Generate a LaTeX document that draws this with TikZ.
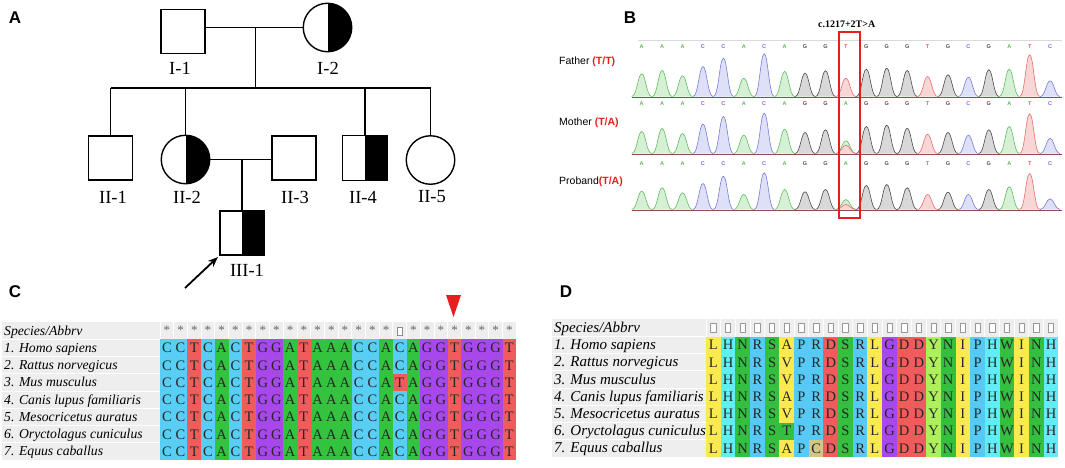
\documentclass[tikz,border=0pt]{standalone}
\usepackage{fontspec}
\setmainfont{Liberation Serif}
\newfontfamily\arial{Liberation Sans}
\usetikzlibrary{arrows.meta}
% chromatogram colours
\definecolor{lnA}{RGB}{95,190,95}   \definecolor{flA}{RGB}{214,240,214}
\definecolor{lnC}{RGB}{120,125,215} \definecolor{flC}{RGB}{221,224,246}
\definecolor{lnG}{RGB}{75,75,75}    \definecolor{flG}{RGB}{216,216,216}
\definecolor{lnT}{RGB}{232,110,110} \definecolor{flT}{RGB}{248,214,214}
\definecolor{txA}{RGB}{90,185,90}   \definecolor{txC}{RGB}{110,115,210}
\definecolor{txG}{RGB}{80,80,80}    \definecolor{txT}{RGB}{230,90,90}
% nucleotide alignment colours
\definecolor{seqC}{RGB}{88,206,245}
\definecolor{seqT}{RGB}{240,92,92}
\definecolor{seqA}{RGB}{52,195,62}
\definecolor{seqG}{RGB}{168,72,236}
% amino-acid colours
\definecolor{aaL}{RGB}{250,234,80}
\definecolor{aaA}{RGB}{250,234,80}
\definecolor{aaV}{RGB}{250,234,80}
\definecolor{aaI}{RGB}{250,234,80}
\definecolor{aaH}{RGB}{98,236,246}
\definecolor{aaR}{RGB}{86,202,245}
\definecolor{aaP}{RGB}{86,202,245}
\definecolor{aaN}{RGB}{52,192,62}
\definecolor{aaS}{RGB}{52,192,62}
\definecolor{aaT}{RGB}{52,192,62}
\definecolor{aaW}{RGB}{52,192,62}
\definecolor{aaD}{RGB}{240,92,92}
\definecolor{aaG}{RGB}{168,72,236}
\definecolor{aaY}{RGB}{172,240,92}
\definecolor{aaC}{RGB}{206,200,132}
\definecolor{hdr}{RGB}{238,238,238}
\definecolor{mkred}{RGB}{232,30,30}
\definecolor{basebr}{RGB}{140,80,72}

\newcommand\pk[4]{% x, baseline, height, base
  \filldraw[draw=ln#4, fill=fl#4, line width=0.6]
    ({#1-10},#2) .. controls ({#1-4.8},#2) and ({#1-3.8},{#2-#3}) .. (#1,{#2-#3})
    .. controls ({#1+3.8},{#2-#3}) and ({#1+4.8},#2) .. ({#1+10},#2);}
\newcommand\pkrow[2]{% baseline, list
  \foreach \b/\h [count=\i] in {#2}{%
    \pgfmathsetmacro\px{641.7+20.42*(\i-1)}%
    \pk{\px}{#1}{\h}{\b}}}
\newcommand\ltrrow[3]{% y, list, name
  \foreach \b [count=\i] in {#2}{%
    \pgfmathsetmacro\px{641.7+20.42*(\i-1)}%
    \node[basetxt, text=tx\b] (#3\i) at (\px,#1) {\b};}}
\newcommand\crow[2]{%
  \foreach \l [count=\j] in {#2}{%
    \pgfmathsetmacro\cx{160+13.7*(\j-1)}%
    \pgfmathsetmacro\cy{322+17.25*#1}%
    \fill[seq\l] (\cx,\cy) rectangle ++(13.7,17.25);
    \node[seqtxt] (c#1-\j) at ({\cx+6.85},{\cy+13.5}) {\l};}}
\newcommand\drow[2]{%
  \foreach \l [count=\j] in {#2}{%
    \pgfmathsetmacro\cx{706+14.68*(\j-1)}%
    \pgfmathsetmacro\cy{319.3+17.2*#1}%
    \fill[aa\l] (\cx,\cy) rectangle ++(14.68,17.2);
    \node[seqtxt] (d#1-\j) at ({\cx+7.34},{\cy+13.4}) {\l};}}

\begin{document}
\begin{tikzpicture}[x=1pt,y=-1pt,
  ped/.style={draw, line width=1.4, fill=white, inner sep=0pt},
  sq/.style={ped, rectangle, minimum size=44},
  circ/.style={ped, circle, minimum size=48.5},
  halfR/.style={path picture={\fill[black] (path picture bounding box.north) rectangle (path picture bounding box.south east);}},
  plab/.style={font=\fontsize{18.5}{20}\selectfont, inner sep=0pt},
  link/.style={line width=1.4},
  panel/.style={font=\arial\bfseries\fontsize{17}{18}\selectfont, inner sep=0pt},
  basetxt/.style={font=\arial\bfseries\fontsize{5.5}{6}\selectfont, inner sep=0pt},
  clab/.style={font=\arial\fontsize{10.5}{12}\selectfont, anchor=west, inner sep=0pt},
  seqtxt/.style={font=\fontsize{14.5}{15}\selectfont, text=black!85, anchor=base, inner sep=0pt},
  spC/.style={font=\itshape\fontsize{13.7}{15}\selectfont, anchor=base west, inner sep=0pt},
  spD/.style={font=\itshape\fontsize{15}{16}\selectfont, anchor=base west, inner sep=0pt},
  star/.style={font=\fontsize{13}{14}\selectfont, text=black!60, inner sep=0pt}
]
\useasboundingbox (0,0) rectangle (1065,467);

% ---------------- panel labels
\node[panel] (pA) at (15,18) {A};
\node[panel] (pB) at (630,18) {B};
\node[panel] (pC) at (15,292) {C};
\node[panel] (pD) at (566,292) {D};

% ---------------- pedigree
\node[sq] (I1) at (183,31.5) {};
\node[circ, halfR] (I2) at (327.5,27.5) {};
\node[sq] (II1) at (110.5,158) {};
\node[circ, halfR] (II2) at (185.5,159.5) {};
\node[sq] (II3) at (294,158) {};
\node[sq, halfR, minimum size=45] (II4) at (365,158) {};
\node[circ] (II5) at (430.5,160) {};
\node[sq, halfR] (III1) at (242,233) {};

\coordinate (m1) at (255.5,27.5);
\coordinate (s0) at (255.5,88);
\coordinate (sL) at (110.5,88);
\coordinate (sR) at (430.5,88);
\coordinate (m2) at (242,159.5);

\draw[link] (I1.east |- I2.west) -- (I2.west);
\draw[link] (m1) -- (s0);
\draw[link] (sL) -- (sR);
\draw[link] (II1.north |- sL) -- (II1.north);
\draw[link] (II2.north |- sL) -- (II2.north);
\draw[link] (II4.north |- sL) -- (II4.north);
\draw[link] (II5.north |- sL) -- (II5.north);
\draw[link] (II2.east) -- (II3.west |- II2.east);
\draw[link] (m2) -- (III1.north);

\node[plab] (lI1) at (180,68) {I-1};
\node[plab] (lI2) at (328,68) {I-2};
\node[plab] (lII1) at (113,197) {II-1};
\node[plab] (lII2) at (187,197) {II-2};
\node[plab] (lII3) at (295,197) {II-3};
\node[plab] (lII4) at (363,197) {II-4};
\node[plab] (lII5) at (432,197) {II-5};
\node[plab] (lIII1) at (247,270) {III-1};

\coordinate (a0) at (185,288);
\draw[line width=1.8, -{Stealth[length=10,width=8]}, shorten >=2] (a0) -- (III1.south west);

% ---------------- chromatogram
\node[font=\bfseries\fontsize{10}{11}\selectfont, inner sep=0pt] (title) at (846.7,24) {c.1217+2T>A};
\draw[black!15, line width=0.5] (638,40.7) -- (1062,40.7);
\foreach \by in {97,154,210}{\draw[basebr, line width=0.9] (632,\by) -- (1062,\by);}

\ltrrow{47}{A,A,A,C,C,A,C,A,G,G,T,G,G,G,T,G,C,G,A,T,C}{fb}
\ltrrow{104}{A,A,A,C,C,A,C,A,G,G,A,G,G,G,T,G,C,G,A,T,C}{mb}
\ltrrow{164}{A,A,A,C,C,A,C,A,G,G,A,G,G,G,T,G,C,G,A,T,C}{pb}

\pkrow{96.5}{A/22.7,A/26,A/20.7,C/30,C/38.3,A/18.3,C/42.7,A/25,G/23.3,G/25.7,T/18.3,G/27.3,G/28.3,G/26,T/20,G/21.7,C/19.3,G/26.7,A/27.3,T/41.7,C/15.7}
\pkrow{153.5}{A/22,A/25,A/20,C/29.3,C/37,A/18.3,C/40.3,A/24.3,G/21,G/23.7,A/12.7,G/27,G/28.3,G/25.3,T/19.3,G/21,C/18.3,G/23.7,A/27,T/39.7,C/15}
\pkrow{209.5}{A/18.3,A/21.7,A/16.7,C/26,C/33.3,A/15,C/36.7,A/20,G/17.7,G/20,A/10,G/24,G/25,G/21.7,T/15,G/17.3,C/15,G/20,A/22.7,T/36,C/10.7}
\pk{845.9}{153.5}{8.3}{T}
\pk{845.9}{209.5}{5}{T}

\node[clab] (fa) at (559,62) {Father \textcolor{mkred}{\bfseries(T/T)}};
\node[clab] (mo) at (559,123) {Mother \textcolor{mkred}{\bfseries(T/A)}};
\node[clab] (pr) at (559,182) {Proband\textcolor{mkred}{\bfseries(T/A)}};

\node[draw=mkred, line width=1.5, minimum width=21, minimum height=186, inner sep=0pt] (mut) at (849.5,125) {};

% ---------------- panel C alignment
\fill[mkred] (446,295) -- (461,295) -- (453.5,317) -- cycle;
\fill[hdr] (2,322) rectangle (516.2,339.25);
\fill[hdr] (2,339.25) rectangle (160,460);
\foreach \j in {0,...,26}{\draw[white, line width=1] ({160+13.7*\j},322) -- ({160+13.7*\j},339.25);}
\foreach \r in {1,...,7}{\draw[white, line width=1] (2,{322+17.25*\r}) -- (160,{322+17.25*\r});}
\foreach \j in {1,...,26}{%
  \ifnum\j=18
    \draw[black!45, fill=white, line width=0.5] ({160+13.7*17+4.6},327) rectangle ++(4.6,8);
  \else
    \node[star] (cs\j) at ({160+13.7*(\j-0.5)},330.5) {*};
  \fi}
\node[spC] (ch) at (4,335.2) {Species/Abbrv};
\foreach \r/\nm in {1/1. Homo sapiens,2/2. Rattus norvegicus,3/3. Mus musculus,4/4. Canis lupus familiaris,5/5. Mesocricetus auratus,6/6. Oryctolagus cuniculus,7/7. Equus caballus}{%
  \node[spC] (cl\r) at (4,{322+17.25*\r+13.2}) {\nm};}
\crow{1}{C,C,T,C,A,C,T,G,G,A,T,A,A,A,C,C,A,C,A,G,G,T,G,G,G,T}
\crow{2}{C,C,T,C,A,C,T,G,G,A,T,A,A,A,C,C,A,C,A,G,G,T,G,G,G,T}
\crow{3}{C,C,T,C,A,C,T,G,G,A,T,A,A,A,C,C,A,T,A,G,G,T,G,G,G,T}
\crow{4}{C,C,T,C,A,C,T,G,G,A,T,A,A,A,C,C,A,C,A,G,G,T,G,G,G,T}
\crow{5}{C,C,T,C,A,C,T,G,G,A,T,A,A,A,C,C,A,C,A,G,G,T,G,G,G,T}
\crow{6}{C,C,T,C,A,C,T,G,G,A,T,A,A,A,C,C,A,C,A,G,G,T,G,G,G,T}
\crow{7}{C,C,T,C,A,C,T,G,G,A,T,A,A,A,C,C,A,C,A,G,G,T,G,G,G,T}

% ---------------- panel D alignment
\fill[hdr] (552,319.3) rectangle (1058.3,336.5);
\fill[hdr] (552,336.5) rectangle (706,457);
\foreach \j in {0,...,24}{\draw[white, line width=1] ({706+14.68*\j},319.3) -- ({706+14.68*\j},336.5);}
\foreach \r in {1,...,7}{\draw[white, line width=1] (552,{319.3+17.2*\r}) -- (706,{319.3+17.2*\r});}
\foreach \j in {1,...,24}{%
  \draw[black!40, fill=white, line width=0.5] ({706+14.68*(\j-1)+4.6},323.5) rectangle ++(5.4,8.6);}
\node[spD] (dh) at (554,332) {Species/Abbrv};
\foreach \r/\nm in {1/1. Homo sapiens,2/2. Rattus norvegicus,3/3. Mus musculus,4/4. Canis lupus familiaris,5/5. Mesocricetus auratus,6/6. Oryctolagus cuniculus,7/7. Equus caballus}{%
  \node[spD] (dl\r) at (554,{319.3+17.2*\r+13.2}) {\nm};}
\drow{1}{L,H,N,R,S,A,P,R,D,S,R,L,G,D,D,Y,N,I,P,H,W,I,N,H}
\drow{2}{L,H,N,R,S,V,P,R,D,S,R,L,G,D,D,Y,N,I,P,H,W,I,N,H}
\drow{3}{L,H,N,R,S,V,P,R,D,S,R,L,G,D,D,Y,N,I,P,H,W,I,N,H}
\drow{4}{L,H,N,R,S,A,P,R,D,S,R,L,G,D,D,Y,N,I,P,H,W,I,N,H}
\drow{5}{L,H,N,R,S,V,P,R,D,S,R,L,G,D,D,Y,N,I,P,H,W,I,N,H}
\drow{6}{L,H,N,R,S,T,P,R,D,S,R,L,G,D,D,Y,N,I,P,H,W,I,N,H}
\drow{7}{L,H,N,R,S,A,P,C,D,S,R,L,G,D,D,Y,N,I,P,H,W,I,N,H}
\end{tikzpicture}
\end{document}
